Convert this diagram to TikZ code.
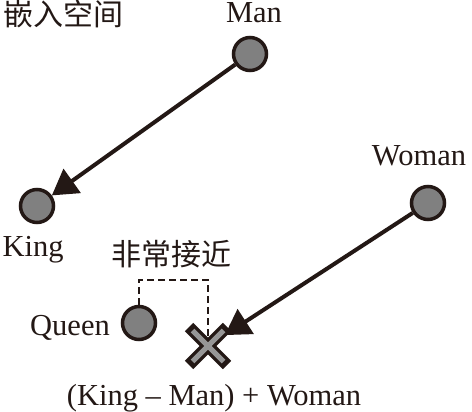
\documentclass[tikz,border=0pt]{standalone}
\usepackage{fontspec}
\setmainfont{Liberation Serif}
\newfontfamily\cjk{Noto Sans CJK SC}
\usepackage{xcolor}
\usetikzlibrary{arrows.meta}

\definecolor{ink}{RGB}{35,24,21}
\definecolor{dotgray}{RGB}{128,128,128}
\definecolor{crossgray}{RGB}{150,150,150}

\begin{document}
\begin{tikzpicture}[x=1pt, y=-1pt,
    word/.style={circle, draw=ink, fill=dotgray, line width=3.5pt, minimum size=33pt, inner sep=0pt},
    sumpoint/.style={circle, minimum size=40pt, inner sep=0pt, outer sep=0pt},
    wordtext/.style={font=\fontsize{30.5}{36}\selectfont, text=ink, anchor=base, inner sep=0pt},
    cjktext/.style={font=\cjk\fontsize{30}{36}\selectfont, text=ink, anchor=base, inner sep=0pt},
    vector/.style={-{Triangle[length=25pt, width=29pt]}, line width=4pt, draw=ink},
    near/.style={dash pattern=on 7pt off 4pt, line width=2.2pt, draw=ink}
]
\useasboundingbox (0,0) rectangle (472,412);

% Word vectors
\node[word] (man) at (250,54) {};
\node[word] (king) at (37,206) {};
\node[word] (woman) at (428,203) {};
\node[word] (queen) at (139,323) {};
\node[sumpoint] (sum) at (208,346) {};

% Labels
\node[cjktext] (space) at (64,26) {嵌入空间};
\node[wordtext] (mantext) at (254,23) {Man};
\node[wordtext] (kingtext) at (33,256) {King};
\node[wordtext] (womantext) at (419,166) {Woman};
\node[wordtext] (queentext) at (70,335) {Queen};
\node[cjktext] (neartext) at (171,265) {非常接近};
\node[wordtext] (sumtext) at (214,405) {(King -- Man) + Woman};

% Arrows
\draw[vector] (man) -- (king);
\draw[vector] (woman) -- (sum);

% Very close
\coordinate (dashtop) at (173,280);
\draw[near] (queen.north) |- (dashtop) -| (sum.center);

% Result mark
\draw[ink, line width=12pt] ([shift={(-19,-19)}]sum.center) -- ([shift={(19,19)}]sum.center);
\draw[ink, line width=12pt] ([shift={(-19,19)}]sum.center) -- ([shift={(19,-19)}]sum.center);
\draw[crossgray, line width=5pt] ([shift={(-15.5,-15.5)}]sum.center) -- ([shift={(15.5,15.5)}]sum.center);
\draw[crossgray, line width=5pt] ([shift={(-15.5,15.5)}]sum.center) -- ([shift={(15.5,-15.5)}]sum.center);

\end{tikzpicture}
\end{document}
